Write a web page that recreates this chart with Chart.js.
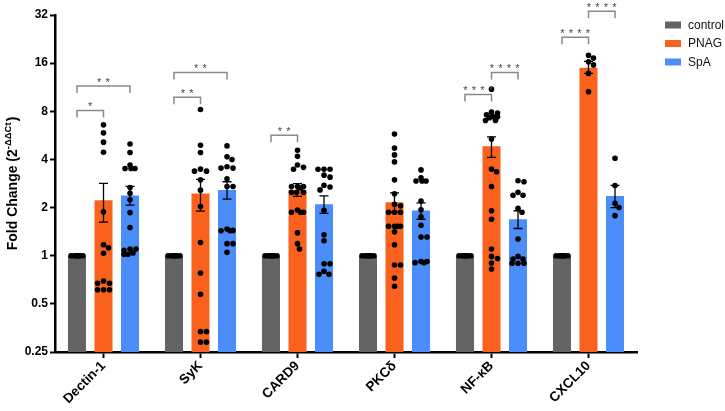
<!DOCTYPE html>
<html>
<head>
<meta charset="utf-8">
<script src="https://cdn.jsdelivr.net/npm/chart.js@4.4.1/dist/chart.umd.min.js"></script>
<style>
  html, body { margin: 0; padding: 0; background: #fff; }
  #wrap { width: 725px; height: 411px; }
</style>
</head>
<body>
<div id="wrap"><canvas id="foldChart" width="725" height="411"></canvas></div>
<script>
// genes on the x axis
const categories = ['Dectin-1', 'SyK', 'CARD9', 'PKCδ', 'NF-κB', 'CXCL10'];
const seriesNames = ['control', 'PNAG', 'SpA'];
const yTicks = [0.25, 0.5, 1, 2, 4, 8, 16, 32];

// bar heights (mean fold change)
const controlMean = [1, 1, 1, 1, 1, 1];
const pnagMean = [2.22, 2.45, 2.58, 2.16, 4.84, 15.0];
const spaMean = [2.38, 2.58, 2.10, 1.92, 1.69, 2.36];

// SEM limits
const pnagErrHi = [2.83, 3.0, 2.82, 2.47, 5.54, 16.4];
const pnagErrLo = [1.62, 1.90, 2.35, 1.87, 4.12, 13.8];
const spaErrHi = [2.71, 2.9, 2.37, 2.14, 1.91, 2.75];
const spaErrLo = [2.07, 2.26, 1.84, 1.69, 1.48, 2.0];

// individual samples
const controlPts = [
  [1, 1, 1, 1, 1, 1, 1, 1],
  [1, 1, 1, 1, 1, 1, 1, 1],
  [1, 1, 1, 1, 1, 1, 1, 1],
  [1, 1, 1, 1, 1, 1, 1, 1],
  [1, 1, 1, 1, 1, 1, 1, 1],
  [1, 1, 1, 1, 1, 1, 1, 1]
];
const pnagPts = [
  [6.58, 5.86, 5.13, 4.44, 1.88, 1.17, 1.12, 1.035, 0.695, 0.672, 0.672, 0.613, 0.613, 0.613],
  [8.2, 4.91, 4.42, 3.48, 3.38, 3.38, 2.98, 2.57, 2.03, 1.21, 0.78, 0.574, 0.335, 0.335, 0.288, 0.288],
  [4.57, 4.18, 3.69, 3.57, 3.47, 2.71, 2.71, 2.71, 2.65, 2.49, 2.49, 2.49, 1.93, 1.87, 1.87, 1.87, 1.39, 1.19, 1.10],
  [5.76, 4.71, 4.27, 3.86, 2.98, 2.44, 2.10, 2.05, 1.87, 1.87, 1.87, 1.53, 1.53, 1.53, 1.53, 1.41, 1.17, 0.875, 0.875, 0.726, 0.644],
  [11.0, 7.9, 7.8, 7.6, 7.4, 7.4, 7.3, 7.0, 7.0, 5.36, 3.48, 3.35, 2.71, 1.91, 1.69, 1.10, 0.99, 0.96, 0.90, 0.826],
  [17.9, 17.2, 16.3, 15.6, 13.8, 10.6]
];
const spaPts = [
  [5.0, 4.42, 3.69, 3.51, 3.51, 3.51, 2.67, 2.46, 2.24, 1.86, 1.50, 1.10, 1.10, 1.08, 1.04, 1.02, 1.02],
  [4.86, 4.15, 4.0, 3.6, 3.53, 3.53, 3.03, 2.71, 2.71, 1.47, 1.44, 1.43, 1.43, 1.19, 1.19, 1.05],
  [3.47, 3.47, 3.47, 3.19, 3.10, 2.76, 2.69, 2.58, 1.92, 1.35, 1.24, 0.89, 0.89, 0.80, 0.765, 0.765],
  [3.44, 3.07, 2.93, 2.93, 2.93, 2.20, 1.94, 1.75, 1.55, 1.31, 1.31, 0.92, 0.92, 0.905, 0.905],
  [2.94, 2.9, 2.49, 2.39, 2.39, 1.98, 1.87, 1.27, 0.99, 0.953, 0.953, 0.897, 0.897, 0.897],
  [4.07, 2.75, 2.13, 2.0, 1.78]
];

// significance: [gene, from series, to series, bracket height (fold change), stars]
const sigBrackets = [
  [0, 0, 1, 8.1, '*'],
  [0, 0, 2, 11.5, '**'],
  [1, 0, 1, 9.8, '**'],
  [1, 0, 2, 14.0, '**'],
  [2, 0, 1, 5.67, '**'],
  [4, 0, 1, 10.2, '****'],
  [4, 1, 2, 14.0, '****'],
  [5, 0, 1, 23.2, '****'],
  [5, 1, 2, 33.8, '****']
];

const colors = ['#646464', '#fa611c', '#4b8ef9'];
const FONT = "'Liberation Sans', Arial, sans-serif";
const catPct = 0.82;
const pitch = catPct / 3;

// simple beeswarm so overlapping dots spread sideways (rough px units)
function swarm(vals) {
  const perDoubling = 48.2, perCat = 97, dot = 5.6, maxOff = 6;
  const cand = [0];
  for (let k = 1; k <= maxOff; k++) cand.push(k, -k);
  const placed = [];
  return vals.slice().sort((a, b) => b - a).map(v => {
    const py = Math.log2(v) * perDoubling;
    let best = 0, bestD = -1;
    for (const c of cand) {
      let d = Infinity;
      for (const p of placed) d = Math.min(d, Math.hypot(p[0] - c, p[1] - py));
      if (d >= dot) { best = c; break; }
      if (d > bestD) { bestD = d; best = c; }
    }
    placed.push([best, py]);
    return { v: v, off: best / perCat };
  });
}

const means = [controlMean, pnagMean, spaMean];
const pts = [controlPts, pnagPts, spaPts];
const errHi = [null, pnagErrHi, spaErrHi];
const errLo = [null, pnagErrLo, spaErrLo];

// sample dots in axis units (x on the helper 'xs' axis, y in fold change)
const dotPoints = [];
seriesNames.forEach((name, s) => {
  categories.forEach((c, i) => {
    swarm(pts[s][i]).forEach(p => dotPoints.push({ x: i + (s - 1) * pitch + p.off, y: p.v }));
  });
});

const datasets = seriesNames.map((name, s) => ({
  label: name,
  data: means[s],
  backgroundColor: colors[s],
  categoryPercentage: catPct,
  barPercentage: 0.68
}));

// SEM whiskers + sample dots on top of the bars
const overlay = {
  id: 'overlay',
  afterDatasetsDraw(chart) {
    const ctx = chart.ctx, y = chart.scales.y, xs = chart.scales.xs;
    ctx.save();
    ctx.strokeStyle = '#000';
    ctx.lineWidth = 1.3;
    [1, 2].forEach(s => {
      chart.getDatasetMeta(s).data.forEach((bar, i) => {
        const top = y.getPixelForValue(errHi[s][i]);
        const bot = y.getPixelForValue(errLo[s][i]);
        ctx.beginPath();
        ctx.moveTo(bar.x, top); ctx.lineTo(bar.x, bot);
        ctx.moveTo(bar.x - 4.5, top); ctx.lineTo(bar.x + 4.5, top);
        ctx.moveTo(bar.x - 4.5, bot); ctx.lineTo(bar.x + 4.5, bot);
        ctx.stroke();
      });
    });
    ctx.fillStyle = '#000';
    dotPoints.forEach(p => {
      ctx.beginPath();
      ctx.arc(xs.getPixelForValue(p.x), y.getPixelForValue(p.y), 2.8, 0, Math.PI * 2);
      ctx.fill();
    });
    // significance brackets
    ctx.strokeStyle = '#8a8a8a';
    ctx.lineWidth = 1.5;
    ctx.fillStyle = '#444';
    ctx.font = '11px ' + FONT;
    ctx.textAlign = 'center';
    ctx.textBaseline = 'alphabetic';
    sigBrackets.forEach(([g, a, b, lvl, stars]) => {
      const x1 = xs.getPixelForValue(g + (a - 1) * pitch);
      const x2 = xs.getPixelForValue(g + (b - 1) * pitch);
      const py = y.getPixelForValue(lvl);
      ctx.beginPath();
      ctx.moveTo(x1, py + 7); ctx.lineTo(x1, py); ctx.lineTo(x2, py); ctx.lineTo(x2, py + 7);
      ctx.stroke();
      const n = stars.length, step = 8.5, mid = (x1 + x2) / 2;
      for (let k = 0; k < n; k++) {
        ctx.fillText('*', mid + (k - (n - 1) / 2) * step, py);
      }
    });
    ctx.restore();
  }
};

const extras = {
  id: 'extras',
  afterDraw(chart) {
    const ctx = chart.ctx, area = chart.chartArea;
    ctx.save();
    // legend
    ctx.font = '12px ' + FONT;
    ctx.textBaseline = 'middle';
    ctx.textAlign = 'left';
    [25, 43.5, 62].forEach((ly, s) => {
      ctx.fillStyle = colors[s];
      ctx.fillRect(665, ly - 3.5, 16, 7);
      ctx.fillStyle = '#111';
      ctx.fillText(seriesNames[s], 688, ly + 0.5);
    });
    // y title with superscript
    ctx.translate(12, (area.top + area.bottom) / 2);
    ctx.rotate(-Math.PI / 2);
    ctx.fillStyle = '#000';
    ctx.textBaseline = 'alphabetic';
    const mainF = 'bold 14px ' + FONT, supF = 'bold 9.5px ' + FONT;
    const t1 = 'Fold Change (2', t2 = '-ΔΔCt', t3 = ')';
    ctx.font = mainF; const w1 = ctx.measureText(t1).width, w3 = ctx.measureText(t3).width;
    ctx.font = supF; const w2 = ctx.measureText(t2).width + 1;
    let x = -(w1 + w2 + w3) / 2;
    ctx.font = mainF; ctx.fillText(t1, x, 5); x += w1;
    ctx.font = supF; ctx.fillText(t2, x, -1); x += w2;
    ctx.font = mainF; ctx.fillText(t3, x, 5);
    ctx.restore();
  }
};

new Chart(document.getElementById('foldChart').getContext('2d'), {
  type: 'bar',
  data: { labels: categories, datasets: datasets },
  options: {
    responsive: false,
    animation: false,
    events: [],
    layout: { padding: { top: 15, right: 88, left: 0, bottom: 0 } },
    plugins: { legend: { display: false }, tooltip: { enabled: false } },
    scales: {
      x: {
        offset: true,
        grid: { display: true, drawOnChartArea: false, offset: false, tickLength: 6, tickWidth: 2, tickColor: '#000' },
        border: { color: '#000', width: 2.5 },
        ticks: { minRotation: 45, maxRotation: 45, autoSkip: false, padding: 0, color: '#000',
                 font: { family: FONT, size: 13.5, weight: 'bold' } },
        afterFit: s => { s.height = 59; }
      },
      // helper axis (same span as the categories) for dots and brackets
      xs: { type: 'linear', min: -0.5, max: 5.5, offset: false, display: false },
      y: {
        type: 'logarithmic',
        min: 0.25,
        max: 32,
        afterBuildTicks: s => { s.ticks = yTicks.map(v => ({ value: v })); },
        ticks: { callback: v => String(v), autoSkip: false, padding: 2, color: '#000',
                 font: { family: FONT, size: 12, weight: 'bold' } },
        grid: { drawOnChartArea: false, tickLength: 5, tickWidth: 2, tickColor: '#000' },
        border: { color: '#000', width: 2.5 },
        afterFit: s => { s.width = 55; }
      }
    }
  },
  plugins: [overlay, extras]
});
</script>
</body>
</html>
